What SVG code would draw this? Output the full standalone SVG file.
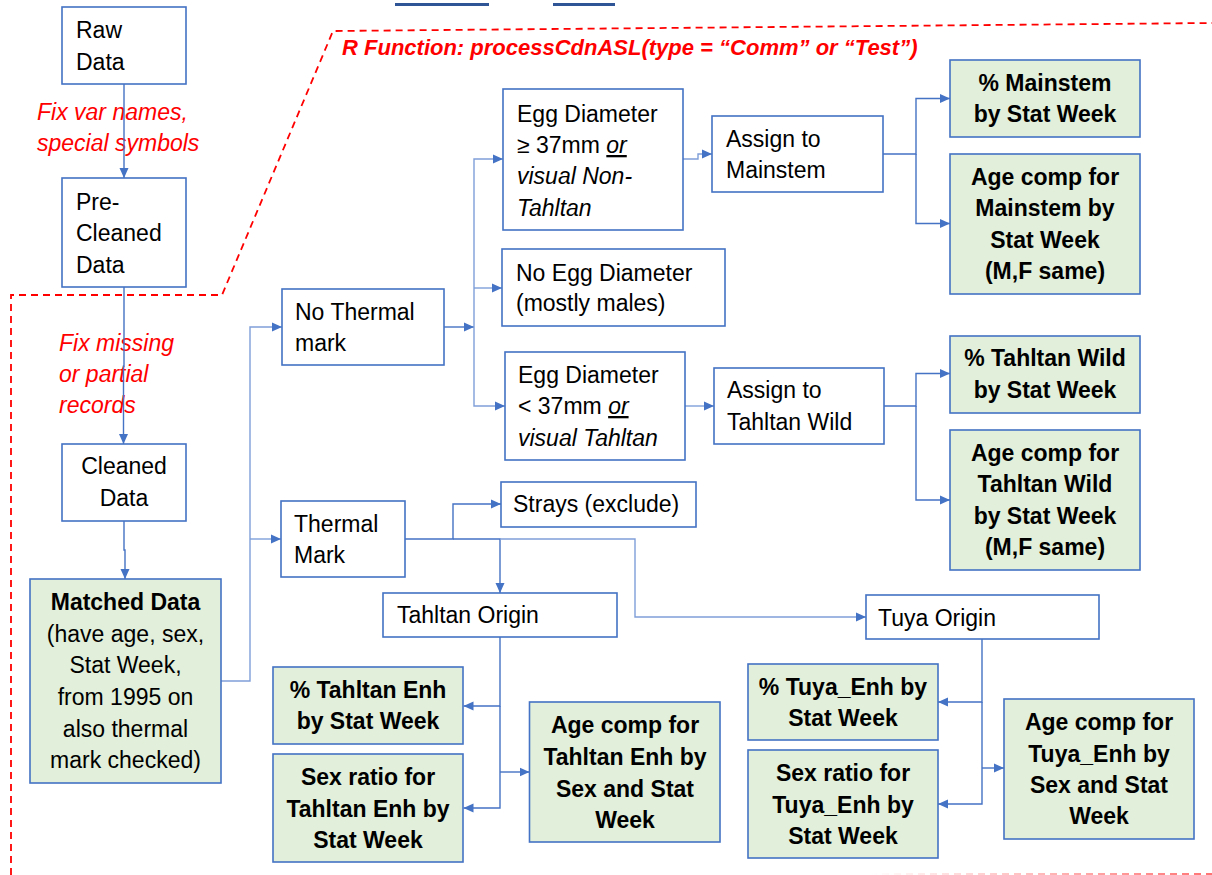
<svg xmlns="http://www.w3.org/2000/svg" width="1212" height="875" viewBox="0 0 1212 875">
  <defs>
    <style>
      .box { fill: #ffffff; stroke: #4472C4; stroke-width: 1.6; }
      .res { fill: #E2EFDA; stroke: #4472C4; stroke-width: 1.6; }
      .t { font-family: "Liberation Sans", Arial, sans-serif; font-size: 23px; fill: #000000; }
      .c { text-anchor: middle; }
      .b { font-weight: bold; }
      .i { font-style: italic; }
      .u { text-decoration: underline; }
      .note { font-family: "Liberation Sans", Arial, sans-serif; font-size: 23px; font-style: italic; fill: #FF0000; }
      .title { font-family: "Liberation Sans", Arial, sans-serif; font-size: 22px; font-style: italic; font-weight: bold; fill: #FF0000; }
      .edge { fill: none; stroke: #4472C4; stroke-width: 1.4; }
      .edge.light { stroke: #7F9FD8; }
      .arrow { marker-end: url(#ah); }
      .scope { fill: none; stroke: #FF0000; stroke-width: 1.8; stroke-dasharray: 7 5; }
    </style>
    <marker id="ah" viewBox="0 0 10 10" refX="10" refY="5" markerWidth="10" markerHeight="10" orient="auto" markerUnits="userSpaceOnUse">
      <path d="M0,0.5 L10,5 L0,9.5 z" fill="#4472C4"/>
    </marker>
    <linearGradient id="fade" gradientUnits="userSpaceOnUse" x1="870" y1="0" x2="1212" y2="0">
      <stop offset="0" stop-color="#FF0000" stop-opacity="0"/>
      <stop offset="1" stop-color="#FF0000" stop-opacity="0.55"/>
    </linearGradient>
  </defs>

  <!-- header bars -->
  <rect x="395" y="3" width="94" height="3" fill="#2F5597"/>
  <rect x="553" y="3" width="62" height="3" fill="#2F5597"/>

  <!-- scope of the R function -->
  <g id="scope">
    <path class="scope" d="M11,875 V295 H222 L333,31 L1212,23"/>
    <line x1="870" y1="874" x2="1212" y2="874" stroke="url(#fade)" stroke-width="1.8" stroke-dasharray="7 5"/>
    <text class="title" x="342" y="55">R Function: processCdnASL(type = “Comm” or “Test”)</text>
  </g>

  <!-- step notes -->
  <g id="notes">
    <text class="note" x="37" y="120">Fix var names,</text>
    <text class="note" x="37" y="151">special symbols</text>
    <text class="note" x="59" y="351">Fix missing</text>
    <text class="note" x="59" y="382">or partial</text>
    <text class="note" x="59" y="413">records</text>
  </g>

  <!-- connectors -->
  <g id="connectors">
    <path class="edge arrow" d="M124,84 V178"/>
    <path class="edge arrow" d="M124,287 V366 H123.5 V444"/>
    <path class="edge arrow" d="M124,521 V550 H125 V579"/>
    <path class="edge light arrow" d="M221,681 H250 V327 H282"/>
    <path class="edge light arrow" d="M250,539 H281"/>
    <path class="edge arrow" d="M444,327 H474"/>
    <path class="edge light arrow" d="M474,327 V159 H503"/>
    <path class="edge light arrow" d="M474,288 H502"/>
    <path class="edge light arrow" d="M474,327 V406 H505"/>
    <path class="edge light arrow" d="M683,159 H698 V154 H712"/>
    <path class="edge light arrow" d="M685,406 H714"/>
    <path class="edge arrow" d="M883,154 H916 V98.5 H950"/>
    <path class="edge arrow" d="M916,154 V223.5 H950"/>
    <path class="edge arrow" d="M884,406 H916 V373.5 H950"/>
    <path class="edge arrow" d="M916,406 V500 H950"/>
    <path class="edge arrow" d="M405,539 H453 V504 H501"/>
    <path class="edge arrow" d="M453,539 H500 V593"/>
    <path class="edge light arrow" d="M500,539 H635 V617 H866"/>
    <path class="edge arrow" d="M500,637 V706 H463.5"/>
    <path class="edge arrow" d="M500,706 V808 H463.5"/>
    <path class="edge arrow" d="M500,772 H529.5"/>
    <path class="edge arrow" d="M982,639 V702 H938"/>
    <path class="edge arrow" d="M982,702 V804 H938"/>
    <path class="edge arrow" d="M982,768 H1004"/>
  </g>

  <!-- data preparation column -->
  <g id="raw-data">
    <rect class="box" x="62" y="7" width="124" height="77"/>
    <text class="t" x="76" y="38">Raw</text>
    <text class="t" x="76" y="70">Data</text>
  </g>
  <g id="pre-cleaned-data">
    <rect class="box" x="62" y="178" width="124" height="109"/>
    <text class="t" x="76" y="210">Pre-</text>
    <text class="t" x="76" y="241">Cleaned</text>
    <text class="t" x="76" y="273">Data</text>
  </g>
  <g id="cleaned-data">
    <rect class="box" x="62" y="444" width="124" height="77"/>
    <text class="t c" x="124" y="474">Cleaned</text>
    <text class="t c" x="124" y="506">Data</text>
  </g>
  <g id="matched-data">
    <rect class="res" x="30" y="579" width="191" height="204"/>
    <text class="t c b" x="125.5" y="610">Matched Data</text>
    <text class="t c" x="125.5" y="642">(have age, sex,</text>
    <text class="t c" x="125.5" y="673">Stat Week,</text>
    <text class="t c" x="125.5" y="705">from 1995 on</text>
    <text class="t c" x="125.5" y="737">also thermal</text>
    <text class="t c" x="125.5" y="768">mark checked)</text>
  </g>

  <!-- no thermal mark branch -->
  <g id="no-thermal-mark">
    <rect class="box" x="282" y="289" width="162" height="76"/>
    <text class="t" x="295" y="320">No Thermal</text>
    <text class="t" x="295" y="351">mark</text>
  </g>
  <g id="egg-large">
    <rect class="box" x="503" y="89" width="180" height="141"/>
    <text class="t" x="517" y="122">Egg Diameter</text>
    <text class="t" x="517" y="153">≥ 37mm <tspan class="i u">or</tspan></text>
    <text class="t i" x="517" y="184">visual Non-</text>
    <text class="t i" x="517" y="216">Tahltan</text>
  </g>
  <g id="no-egg">
    <rect class="box" x="502" y="249" width="223" height="77"/>
    <text class="t" x="516" y="281">No Egg Diameter</text>
    <text class="t" x="516" y="311">(mostly males)</text>
  </g>
  <g id="egg-small">
    <rect class="box" x="505" y="352" width="180" height="108"/>
    <text class="t" x="518" y="383">Egg Diameter</text>
    <text class="t" x="518" y="414">&lt; 37mm <tspan class="i u">or</tspan></text>
    <text class="t i" x="518" y="446">visual Tahltan</text>
  </g>
  <g id="assign-mainstem">
    <rect class="box" x="712" y="116" width="171" height="76"/>
    <text class="t" x="726" y="147">Assign to</text>
    <text class="t" x="726" y="178">Mainstem</text>
  </g>
  <g id="assign-tahltan-wild">
    <rect class="box" x="714" y="368" width="170" height="76"/>
    <text class="t" x="727" y="398">Assign to</text>
    <text class="t" x="727" y="430">Tahltan Wild</text>
  </g>
  <g id="pct-mainstem">
    <rect class="res" x="950" y="60" width="190" height="77"/>
    <text class="t c b" x="1045" y="91">% Mainstem</text>
    <text class="t c b" x="1045" y="122">by Stat Week</text>
  </g>
  <g id="age-mainstem">
    <rect class="res" x="950" y="154" width="190" height="140"/>
    <text class="t c b" x="1045" y="185">Age comp for</text>
    <text class="t c b" x="1045" y="216">Mainstem by</text>
    <text class="t c b" x="1045" y="248">Stat Week</text>
    <text class="t c b" x="1045" y="279">(M,F same)</text>
  </g>
  <g id="pct-tahltan-wild">
    <rect class="res" x="950" y="336" width="190" height="77"/>
    <text class="t c b" x="1045" y="366">% Tahltan Wild</text>
    <text class="t c b" x="1045" y="398">by Stat Week</text>
  </g>
  <g id="age-tahltan-wild">
    <rect class="res" x="950" y="430" width="190" height="140"/>
    <text class="t c b" x="1045" y="461">Age comp for</text>
    <text class="t c b" x="1045" y="492">Tahltan Wild</text>
    <text class="t c b" x="1045" y="524">by Stat Week</text>
    <text class="t c b" x="1045" y="555">(M,F same)</text>
  </g>

  <!-- thermal mark branch -->
  <g id="thermal-mark">
    <rect class="box" x="281" y="501" width="124" height="76"/>
    <text class="t" x="294" y="532">Thermal</text>
    <text class="t" x="294" y="563">Mark</text>
  </g>
  <g id="strays">
    <rect class="box" x="501" y="482" width="195" height="45"/>
    <text class="t" x="513" y="512">Strays (exclude)</text>
  </g>
  <g id="tahltan-origin">
    <rect class="box" x="383" y="593" width="234" height="44"/>
    <text class="t" x="397" y="623">Tahltan Origin</text>
  </g>
  <g id="tuya-origin">
    <rect class="box" x="866" y="595" width="233" height="44"/>
    <text class="t" x="878" y="626">Tuya Origin</text>
  </g>
  <g id="pct-tahltan-enh">
    <rect class="res" x="273" y="667" width="190" height="77"/>
    <text class="t c b" x="368" y="698">% Tahltan Enh</text>
    <text class="t c b" x="368" y="729">by Stat Week</text>
  </g>
  <g id="sex-tahltan-enh">
    <rect class="res" x="273" y="754" width="190" height="108"/>
    <text class="t c b" x="368" y="785">Sex ratio for</text>
    <text class="t c b" x="368" y="817">Tahltan Enh by</text>
    <text class="t c b" x="368" y="848">Stat Week</text>
  </g>
  <g id="age-tahltan-enh">
    <rect class="res" x="529.5" y="702" width="190.5" height="140"/>
    <text class="t c b" x="625" y="733">Age comp for</text>
    <text class="t c b" x="625" y="765">Tahltan Enh by</text>
    <text class="t c b" x="625" y="797">Sex and Stat</text>
    <text class="t c b" x="625" y="828">Week</text>
  </g>
  <g id="pct-tuya-enh">
    <rect class="res" x="748" y="664" width="190" height="76"/>
    <text class="t c b" x="843" y="695">% Tuya_Enh by</text>
    <text class="t c b" x="843" y="726">Stat Week</text>
  </g>
  <g id="sex-tuya-enh">
    <rect class="res" x="748" y="750" width="190" height="108"/>
    <text class="t c b" x="843" y="781">Sex ratio for</text>
    <text class="t c b" x="843" y="813">Tuya_Enh by</text>
    <text class="t c b" x="843" y="844">Stat Week</text>
  </g>
  <g id="age-tuya-enh">
    <rect class="res" x="1004" y="699" width="190" height="140"/>
    <text class="t c b" x="1099" y="730">Age comp for</text>
    <text class="t c b" x="1099" y="762">Tuya_Enh by</text>
    <text class="t c b" x="1099" y="793">Sex and Stat</text>
    <text class="t c b" x="1099" y="824">Week</text>
  </g>
</svg>
